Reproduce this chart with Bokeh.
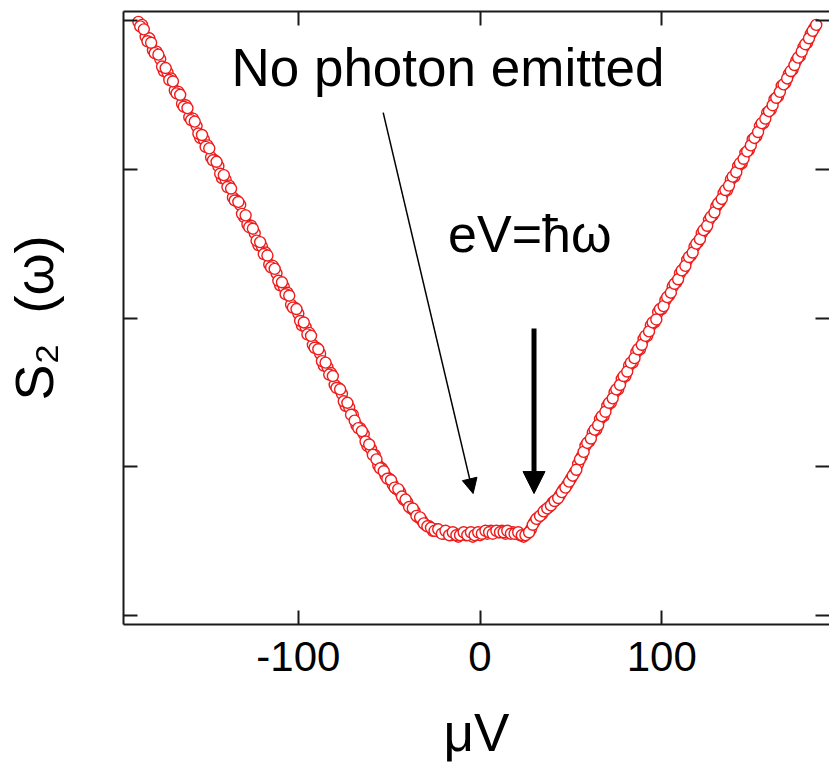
from bokeh.plotting import figure
from bokeh.models import LinearAxis, FixedTicker, Label, Arrow, NormalHead, Range1d
from bokeh.embed import file_html
from bokeh.resources import INLINE

# ---- data (two overlapping sweeps) ----
bias_uV = [
    -188, -186, -184, -182, -180, -178, -176, -174, -172, -170,
    -168, -166, -164, -162, -160, -158, -156, -154, -152, -150,
    -148, -146, -144, -142, -140, -138, -136, -134, -132, -130,
    -128, -126, -124, -122, -120, -118, -116, -114, -112, -110,
    -108, -106, -104, -102, -100, -98, -96, -94, -92, -90,
    -88, -86, -84, -82, -80, -78, -76, -74, -72, -70,
    -68, -66, -64, -62, -60, -58, -56, -54, -52, -50,
    -48, -46, -44, -42, -40, -38, -36, -34, -32, -30,
    -28, -26, -24, -22, -20, -18, -16, -14, -12, -10,
    -8, -6, -4, -2, 0, 2, 4, 6, 8, 10,
    12, 14, 16, 18, 20, 22, 24, 26, 28, 30,
    32, 34, 36, 38, 40, 42, 44, 46, 48, 50,
    52, 54, 56, 58, 60, 62, 64, 66, 68, 70,
    72, 74, 76, 78, 80, 82, 84, 86, 88, 90,
    92, 94, 96, 98, 100, 102, 104, 106, 108, 110,
    112, 114, 116, 118, 120, 122, 124, 126, 128, 130,
    132, 134, 136, 138, 140, 142, 144, 146, 148, 150,
    152, 154, 156, 158, 160, 162, 164, 166, 168, 170,
    172, 174, 176, 178, 180, 182, 184,
]
s2_omega = [
    3.99, 3.97, 3.89, 3.88, 3.80, 3.79, 3.74, 3.66, 3.65, 3.61,
    3.53, 3.52, 3.44, 3.43, 3.35, 3.34, 3.29, 3.21, 3.20, 3.16,
    3.08, 3.06, 3.02, 2.94, 2.93, 2.89, 2.81, 2.79, 2.76, 2.68,
    2.63, 2.62, 2.57, 2.49, 2.48, 2.44, 2.36, 2.35, 2.30, 2.22,
    2.21, 2.17, 2.09, 2.07, 2.03, 1.95, 1.94, 1.90, 1.82, 1.80,
    1.76, 1.68, 1.67, 1.63, 1.55, 1.53, 1.49, 1.41, 1.40, 1.35,
    1.28, 1.26, 1.22, 1.14, 1.12, 1.08, 1.01, 0.99, 0.94, 0.92,
    0.88, 0.85, 0.83, 0.78, 0.76, 0.72, 0.70, 0.66, 0.64, 0.61,
    0.60, 0.57, 0.58, 0.56, 0.55, 0.56, 0.54, 0.55, 0.53, 0.55,
    0.54, 0.55, 0.53, 0.55, 0.54, 0.56, 0.55, 0.57, 0.56, 0.56,
    0.57, 0.55, 0.56, 0.56, 0.55, 0.54, 0.53, 0.55, 0.58, 0.63,
    0.66, 0.68, 0.71, 0.73, 0.76, 0.78, 0.81, 0.85, 0.88, 0.92,
    0.96, 1.02, 1.07, 1.14, 1.17, 1.23, 1.25, 1.32, 1.34, 1.41,
    1.43, 1.50, 1.52, 1.59, 1.61, 1.68, 1.70, 1.77, 1.79, 1.86,
    1.88, 1.95, 1.97, 2.04, 2.06, 2.12, 2.15, 2.21, 2.24, 2.30,
    2.33, 2.39, 2.42, 2.48, 2.51, 2.57, 2.60, 2.66, 2.69, 2.75,
    2.78, 2.84, 2.86, 2.93, 2.95, 3.02, 3.04, 3.11, 3.13, 3.20,
    3.22, 3.29, 3.31, 3.38, 3.40, 3.47, 3.49, 3.56, 3.58, 3.64,
    3.67, 3.73, 3.76, 3.82, 3.85, 3.91, 3.95,
]
bias_uV_2 = [
    -187, -185, -183, -181, -179, -177, -175, -173, -171, -169,
    -167, -165, -163, -161, -159, -157, -155, -153, -151, -149,
    -147, -145, -143, -141, -139, -137, -135, -133, -131, -129,
    -127, -125, -123, -121, -119, -117, -115, -113, -111, -109,
    -107, -105, -103, -101, -99, -97, -95, -93, -91, -89,
    -87, -85, -83, -81, -79, -77, -75, -73, -71, -69,
    -67, -65, -63, -61, -59, -57, -55, -53, -51, -49,
    -47, -45, -43, -41, -39, -37, -35, -33, -31, -29,
    -27, -25, -23, -21, -19, -17, -15, -13, -11, -9,
    -7, -5, -3, -1, 1, 3, 5, 7, 9, 11,
    13, 15, 17, 19, 21, 23, 25, 27, 29, 31,
    33, 35, 37, 39, 41, 43, 45, 47, 49, 51,
    53, 55, 57, 59, 61, 63, 65, 67, 69, 71,
    73, 75, 77, 79, 81, 83, 85, 87, 89, 91,
    93, 95, 97, 99, 101, 103, 105, 107, 109, 111,
    113, 115, 117, 119, 121, 123, 125, 127, 129, 131,
    133, 135, 137, 139, 141, 143, 145, 147, 149, 151,
    153, 155, 157, 159, 161, 163, 165, 167, 169, 171,
    173, 175, 177, 179, 181, 183, 185,
]
s2_omega_2 = [
    3.96, 3.94, 3.86, 3.85, 3.78, 3.77, 3.69, 3.68, 3.60, 3.59,
    3.51, 3.50, 3.42, 3.41, 3.33, 3.32, 3.24, 3.23, 3.15, 3.14,
    3.06, 3.05, 2.97, 2.96, 2.88, 2.87, 2.79, 2.78, 2.70, 2.69,
    2.61, 2.60, 2.52, 2.51, 2.43, 2.42, 2.34, 2.33, 2.25, 2.24,
    2.16, 2.15, 2.07, 2.06, 1.98, 1.97, 1.89, 1.88, 1.80, 1.79,
    1.71, 1.70, 1.62, 1.61, 1.53, 1.52, 1.44, 1.43, 1.35, 1.31,
    1.26, 1.24, 1.17, 1.15, 1.08, 1.05, 0.99, 0.97, 0.92, 0.91,
    0.86, 0.85, 0.80, 0.78, 0.73, 0.72, 0.67, 0.66, 0.62, 0.60,
    0.59, 0.57, 0.58, 0.55, 0.57, 0.54, 0.56, 0.54, 0.54, 0.56,
    0.54, 0.56, 0.54, 0.56, 0.55, 0.57, 0.56, 0.55, 0.57, 0.56,
    0.56, 0.57, 0.55, 0.55, 0.56, 0.54, 0.54, 0.56, 0.61, 0.65,
    0.67, 0.70, 0.72, 0.74, 0.77, 0.79, 0.83, 0.86, 0.90, 0.94,
    0.98, 1.05, 1.10, 1.16, 1.19, 1.25, 1.28, 1.34, 1.37, 1.43,
    1.46, 1.52, 1.55, 1.61, 1.64, 1.70, 1.73, 1.79, 1.82, 1.88,
    1.91, 1.97, 1.99, 2.06, 2.08, 2.14, 2.17, 2.23, 2.26, 2.32,
    2.35, 2.41, 2.44, 2.50, 2.53, 2.59, 2.62, 2.68, 2.71, 2.77,
    2.80, 2.86, 2.89, 2.95, 2.98, 3.04, 3.07, 3.12, 3.16, 3.21,
    3.25, 3.31, 3.34, 3.39, 3.43, 3.48, 3.52, 3.57, 3.61, 3.66,
    3.70, 3.75, 3.79, 3.84, 3.88, 3.93, 3.97,
]
x_ticks = [-100, 0, 100]
x_tick_labels = ["-100", "0", "100"]
y_ticks = [0, 1, 2, 3, 4]

AX = "#1a1a1a"
FONT = "Liberation Sans"

p = figure(width=829, height=770, output_backend="svg", toolbar_location=None,
           x_range=Range1d(-196.2, 192.3), y_range=Range1d(-0.06, 4.06),
           x_axis_location=None, y_axis_location=None,
           min_border_left=122, min_border_right=0, min_border_top=11,
           min_border_bottom=146)
p.outline_line_color = None
p.xgrid.visible = False
p.ygrid.visible = False
p.background_fill_color = "white"
p.border_fill_color = "white"


def style(ax, ticks, labels=None):
    ax.ticker = FixedTicker(ticks=ticks)
    ax.axis_line_width = 2
    ax.axis_line_color = AX
    ax.major_tick_line_width = 2
    ax.major_tick_line_color = AX
    ax.major_tick_in = 14
    ax.major_tick_out = 0
    ax.minor_tick_in = 0
    ax.minor_tick_out = 0
    if labels is None:
        ax.major_label_overrides = {t: "" for t in ticks}
        ax.major_label_text_font_size = "0px"
        ax.major_label_standoff = 0
    else:
        ax.major_label_overrides = {t: l for t, l in zip(ticks, labels)}
        ax.major_label_text_font = FONT
        ax.major_label_text_font_size = "42px"
        ax.major_label_text_color = "black"
        ax.major_label_standoff = 17


xb = LinearAxis()
style(xb, x_ticks, x_tick_labels)
xb.axis_label = "μV"
xb.axis_label_text_font = FONT
xb.axis_label_text_font_size = "53px"
xb.axis_label_text_font_style = "normal"
xb.axis_label_text_color = "black"
xb.axis_label_standoff = 29
p.add_layout(xb, "below")

yl = LinearAxis()
style(yl, y_ticks)
yl.axis_label = "S₂\u00a0\u00a0(ω)"
yl.axis_label_text_font = FONT
yl.axis_label_text_font_size = "54px"
yl.axis_label_text_font_style = "normal"
yl.axis_label_text_color = "black"
yl.axis_label_standoff = 60
p.add_layout(yl, "left")

xt = LinearAxis()
style(xt, x_ticks)
p.add_layout(xt, "above")

yr = LinearAxis()
style(yr, y_ticks)
yr.axis_line_alpha = 0
p.add_layout(yr, "right")

for xs, ys in ((bias_uV, s2_omega), (bias_uV_2, s2_omega_2)):
    p.scatter(xs, ys, marker="circle", size=11, fill_color="white",
              line_color="#ee1c1c", line_width=1.4)

# annotations
p.add_layout(Label(x=-136.8, y=3.685, text="No photon emitted",
                   text_font=FONT, text_font_size="53px", text_color="black",
                   text_align="left", text_baseline="alphabetic"))
p.add_layout(Label(x=-17.6, y=2.565, text="eV=ħω",
                   text_font=FONT, text_font_size="52px", text_color="black",
                   text_align="left", text_baseline="alphabetic"))

p.add_layout(Arrow(end=NormalHead(size=15, fill_color="black", line_color="black"),
                   x_start=-53.3, y_start=3.38, x_end=-3.8, y_end=0.82,
                   line_width=1.5, line_color="black"))
p.add_layout(Arrow(end=NormalHead(size=22, fill_color="black", line_color="black"),
                   x_start=29.7, y_start=1.93, x_end=29.7, y_end=0.82,
                   line_width=5, line_color="black"))

open("out.html", "w").write(file_html(p, INLINE))
